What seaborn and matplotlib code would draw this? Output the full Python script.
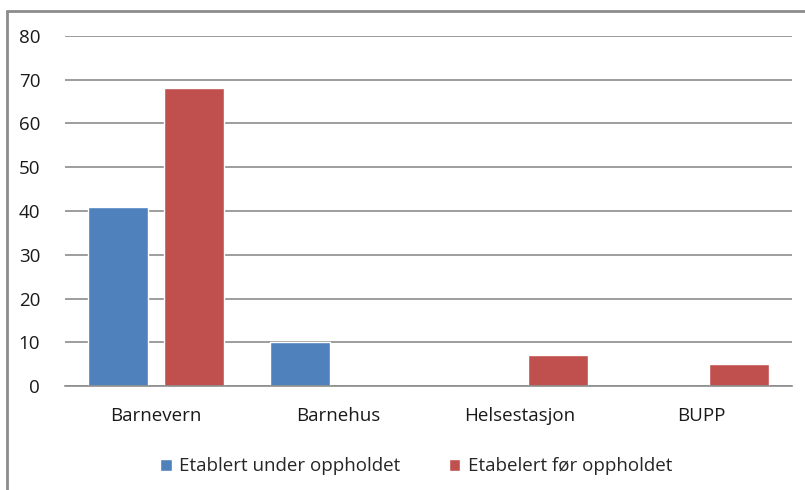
import pandas as pd
import matplotlib
matplotlib.use("Agg")
import matplotlib.pyplot as plt
import seaborn as sns
from matplotlib.lines import Line2D

# data
categories = ["Barnevern", "Barnehus", "Helsestasjon", "BUPP"]
under = [41, 10, 0, 0]
foer = [68, 0, 7, 5]
series = ["Etablert under oppholdet", "Etabelert før oppholdet"]

df = pd.DataFrame({
    "kategori": categories * 2,
    "antall": under + foer,
    "serie": [series[0]] * 4 + [series[1]] * 4,
})

sns.set_style("white")
plt.rcParams["font.family"] = ["Open Sans", "DejaVu Sans"]

fig = plt.figure(figsize=(8.05, 4.9), dpi=100)
ax = fig.add_axes([0.081, 0.212, 0.903, 0.715])

sns.barplot(data=df, x="kategori", y="antall", hue="serie",
            palette=["#4F81BD", "#C0504D"], width=0.836, gap=0.21,
            saturation=1, ax=ax, errorbar=None)

ax.set_ylim(0, 80)
ax.set_yticks(range(0, 81, 10))
ax.yaxis.grid(True, color="#8C8C8C", linewidth=1.2)
ax.set_axisbelow(True)
ax.set_xlabel("")
ax.set_ylabel("")
for s in ["top", "right", "left"]:
    ax.spines[s].set_visible(False)
ax.spines["bottom"].set_color("#8C8C8C")
ax.spines["bottom"].set_linewidth(1.2)
ax.tick_params(axis="both", length=0, labelsize=13.5, colors="#1A1A1A")
ax.tick_params(axis="y", pad=18)
ax.tick_params(axis="x", pad=15)

ax.legend(loc="upper center", bbox_to_anchor=(0.483, -0.155), ncol=2,
          frameon=False, fontsize=13.5, handlelength=0.6, handleheight=0.6,
          columnspacing=2.6, handletextpad=0.4)

# outer chart border (only top and left visible in the crop)
fig.add_artist(Line2D([0.0087, 1.0], [0.978, 0.978], color="#8C8C8C", linewidth=2))
fig.add_artist(Line2D([0.0087, 0.0087], [0.0, 0.978], color="#8C8C8C", linewidth=2))

fig.savefig("out.png", dpi=100)
